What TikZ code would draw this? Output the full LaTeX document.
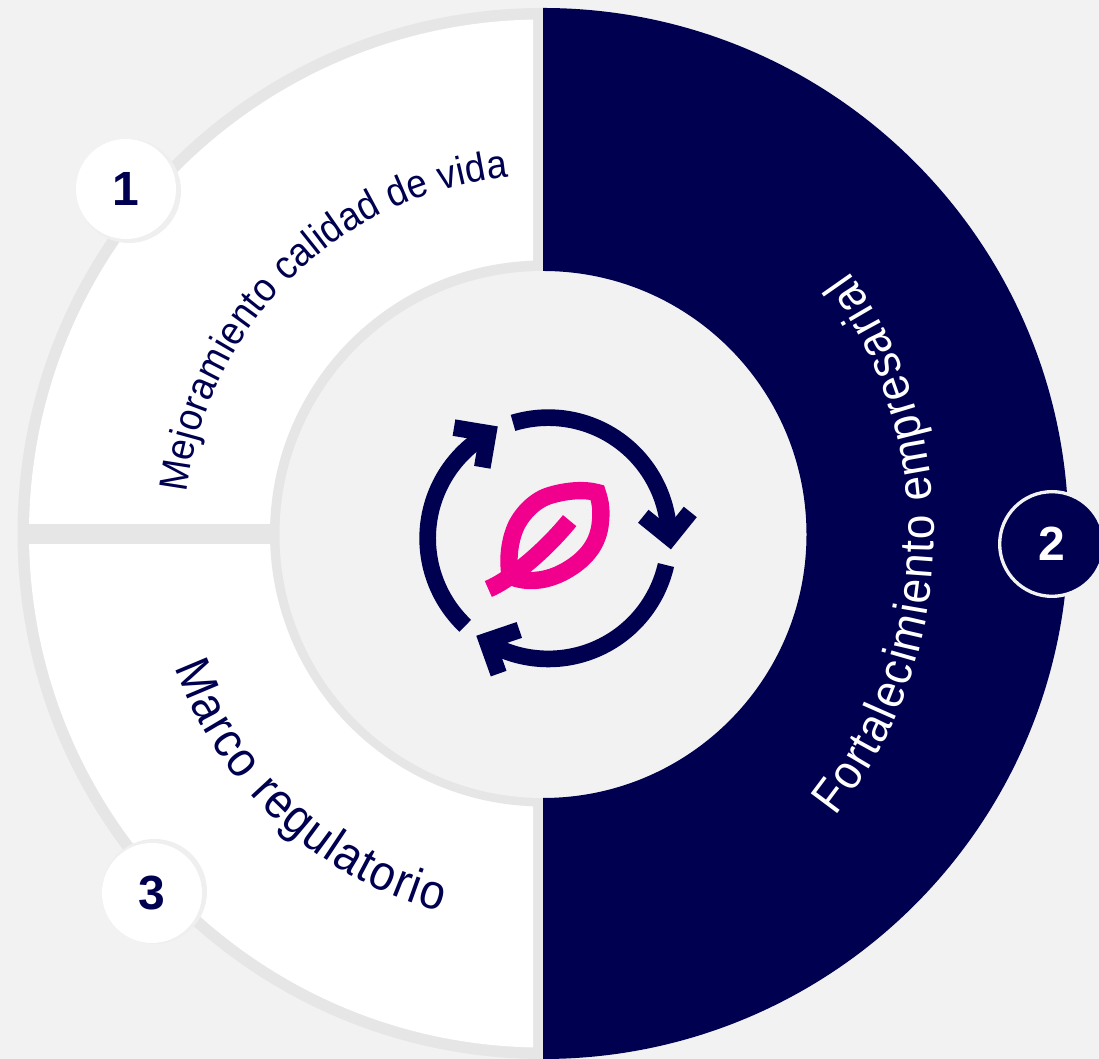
\documentclass[tikz,border=0pt]{standalone}
\usepackage{fontspec}
\setmainfont{Liberation Sans}
\newfontfamily\bendfont[FakeStretch=.92]{Liberation Sans}
\usetikzlibrary{decorations.text}
\definecolor{navy}{HTML}{000050}
\definecolor{leaf}{HTML}{F0008C}
\definecolor{ring}{HTML}{E6E6E6}
\definecolor{back}{HTML}{F2F2F2}
\definecolor{edge}{HTML}{EFEFEF}
\tikzset{
	badge/.style={circle,inner sep=0pt,minimum size=75pt,font=\bfseries\fontsize{36}{36}\selectfont,text=navy},
	arrowline/.style={navy,line width=12.5pt,miter limit=10},
	leafline/.style={leaf,line width=13pt,miter limit=10},
	bendlabel/.style={decorate,decoration={text along path,text={#1},text align={fit to path}}}
}
\begin{document}
\begin{tikzpicture}
	  [x=.75pt,y=.75pt]
	\path[use as bounding box,clip] (0,0) rectangle (1099,1059);
	\fill[back] (0,0) rectangle (1099,1059);
	\coordinate (c) at (543,525.5);
	\coordinate (m) at (543,524.5);

	\fill[ring] (543,1051) arc[start angle=90,end angle=270,radius=525.5] -- cycle;
	\begin{scope}
	  \clip (0,535) rectangle (533,1059);
	  \fill[white] (c) circle (514);
	\end{scope}
	\begin{scope}
	  \clip (0,0) rectangle (533,514);
	  \fill[white] (c) circle (514);
	\end{scope}
	\fill[ring] (c) circle (273);
	\fill[back] (m) circle (263.5);
	\fill[navy] (543,1051) arc[start angle=90,end angle=-90,radius=525.5]
	  -- (543,261) arc[start angle=-90,end angle=90,radius=263.5] -- cycle;

	\path[bendlabel={|\bendfont\fontsize{30}{32}\selectfont\color{navy}|Mejoramiento calidad de vida}]
	  (c) ++(173.5:358) arc[start angle=173.5,end angle=95.6,radius=358];
	\path[bendlabel={|\bendfont\fontsize{36}{38}\selectfont\color{white}|Fortalecimiento empresarial}]
	  (482,524) ++(-38.5:452) arc[start angle=-38.5,end angle=35.6,radius=452];
	\path[bendlabel={|\bendfont\fontsize{37}{39}\selectfont\color{navy}|Marco regulatorio}]
	  (c) ++(200:392) arc[start angle=200,end angle=254.8,radius=392];

	\begin{scope}[shift={(548.3,520.7)},scale=.3333]
	  \foreach \from/\to in {107/0,-12.8/-120.8,226.5/119.8}
	    \draw[arrowline] (\from:362) arc[start angle=\from,end angle=\to,radius=362];
	  \draw[arrowline] (285,66) -- (364,2) -- (426,79);
	  \draw[arrowline] (-149,-406) -- (-184,-308) -- (-87,-275);
	  \draw[arrowline] (-283,332) -- (-180.5,315) -- (-198,213);
	  \draw[leafline] (147,137) .. controls (100,150) and (40,140) .. (0,127)
	    .. controls (-45,112) and (-90,65) .. (-105,15)
	    .. controls (-120,-30) and (-120,-75) .. (-115,-110)
	    .. controls (-105,-120) and (-90,-122) .. (-75,-125)
	    .. controls (-30,-132) and (20,-118) .. (60,-93)
	    .. controls (115,-60) and (150,-15) .. (156,45)
	    .. controls (160,80) and (158,105) .. (147,137) -- cycle;
	  \draw[leafline] (-180,-152) .. controls (-125,-130) and (-20,-50) .. (64,53);
	\end{scope}

	\fill[edge] (129,868) circle (52);
	\fill[edge] (154.5,167.5) circle (52.5);
	\node[badge,fill=white] (n1) at (126,870) {1};
	\node[badge,fill=navy,draw=back,line width=2.5pt,minimum size=78.5pt,text=white] (n2) at (1052,515) {2};
	\node[badge,fill=white] (n3) at (152,166) {3};
	\end{tikzpicture}
\end{document}
